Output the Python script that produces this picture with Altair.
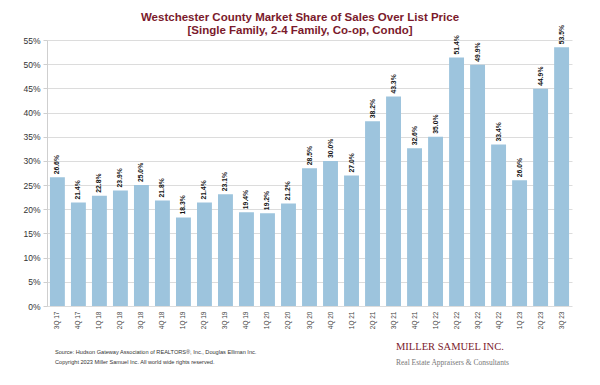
import altair as alt
import pandas as pd

quarters = ["3Q 17", "4Q 17", "1Q 18", "2Q 18", "3Q 18", "4Q 18", "1Q 19", "2Q 19",
            "3Q 19", "4Q 19", "1Q 20", "2Q 20", "3Q 20", "4Q 20", "1Q 21", "2Q 21",
            "3Q 21", "4Q 21", "1Q 22", "2Q 22", "3Q 22", "4Q 22", "1Q 23", "2Q 23", "3Q 23"]
share = [26.6, 21.4, 22.8, 23.9, 25.0, 21.8, 18.3, 21.4, 23.1, 19.4, 19.2, 21.2,
         28.5, 30.0, 27.0, 38.2, 43.3, 32.6, 35.0, 51.4, 49.9, 33.4, 26.0, 44.9, 53.5]
y_ticks = [0, 5, 10, 15, 20, 25, 30, 35, 40, 45, 50, 55]

title_lines = ["Westchester County Market Share of Sales Over List Price",
               "[Single Family, 2-4 Family, Co-op, Condo]"]
footer_lines = ["Source: Hudson Gateway Association of REALTORS®, Inc., Douglas Elliman Inc.",
                "Copyright 2023 Miller Samuel Inc.  All world wide rights reserved."]
logo_main = "MILLER SAMUEL INC."
logo_sub = "Real Estate Appraisers & Consultants"

df = pd.DataFrame({"q": quarters, "v": share})
df["label"] = [f"{v:.1f}%" for v in share]

W, H = 525, 266
DARK_RED = "#7b1a2c"

x = alt.X("q:N", sort=None, title=None,
          scale=alt.Scale(paddingInner=0.29, paddingOuter=0.14),
          axis=alt.Axis(labelAngle=270, labelFontSize=6.5, labelColor="#444",
                        labelFont="Liberation Sans", ticks=False, domain=False,
                        labelPadding=5, labelBaseline="middle"))
y = alt.Y("v:Q", title=None,
          scale=alt.Scale(domain=[0, 55], nice=False, zero=True),
          axis=alt.Axis(values=y_ticks, labelExpr="datum.value + '%'",
                        labelOverlap=False, tickCount=12,
                        labelFontSize=8.5, labelColor="#333", labelFont="Liberation Sans",
                        gridColor="#dcdcdc", gridWidth=1, domainColor="#cfcfcf",
                        tickColor="#cfcfcf", tickSize=4, labelPadding=3))

bars = alt.Chart(df).mark_bar(color="#9dc4dd").encode(x=x, y=y)
labels = alt.Chart(df).mark_text(angle=270, align="left", baseline="middle", dx=3,
                                 fontSize=6.8, fontWeight="bold", color="#111",
                                 font="Liberation Sans").encode(
    x=x, y=y, text="label:N")


def txt(s, xpos, ypos, size, color, font, weight="normal", align="left"):
    return alt.Chart(pd.DataFrame({"t": [s]})).mark_text(
        fontSize=size, color=color, font=font, fontWeight=weight, align=align,
        baseline="middle").encode(x=alt.value(xpos), y=alt.value(ypos), text="t:N")


t1 = txt(title_lines[0], 253, -22, 11.5, DARK_RED, "Liberation Sans", "bold", "center")
t2 = txt(title_lines[1], 253, -9, 11.5, DARK_RED, "Liberation Sans", "bold", "center")
f1 = txt(footer_lines[0], 8, H + 46, 5.6, "#333", "Liberation Sans")
f2 = txt(footer_lines[1], 8, H + 56, 5.6, "#333", "Liberation Sans")
l1 = txt(logo_main, 349, H + 41, 10.5, DARK_RED, "Liberation Serif")
l2 = txt(logo_sub, 349, H + 57, 7.5, "#777", "Liberation Serif")

chart = alt.layer(bars, labels, t1, t2, f1, f2, l1, l2).properties(
    width=W, height=H,
    autosize=alt.AutoSizeParams(type="none"),
    padding={"left": 39, "top": 32, "right": 20, "bottom": 71},
    background="white",
).configure_view(stroke=None)

chart.save("out.html", embed_options={"renderer": "svg", "actions": False})
